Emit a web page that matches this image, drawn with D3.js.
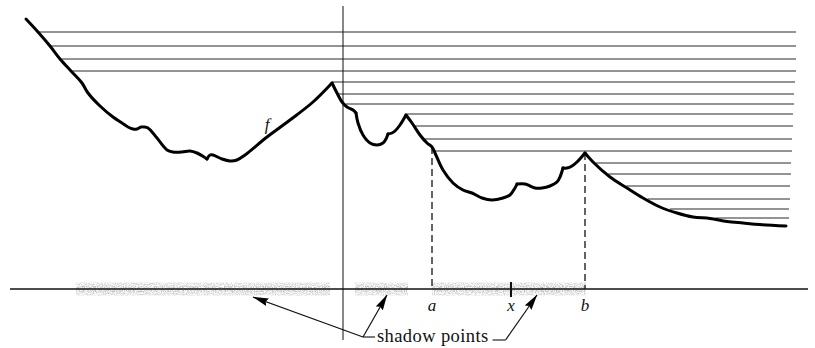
<!DOCTYPE html>
<html><head><meta charset="utf-8">
<script src="https://cdn.jsdelivr.net/npm/d3@7"></script>
<style>html,body{margin:0;padding:0;background:#fff}svg{display:block}</style>
</head><body>
<svg id="c" width="815" height="348"></svg>
<script>
// ---- data (units: horizontal axis at y=0, vertical line at x=0) ----
const fSegments = [
  [[-31.7,27.0],[-30.5,25.7],[-29.3,24.3],[-28.3,23.0],[-27.2,21.8],[-26.1,20.6],[-25.5,19.6],[-24.3,18.3],[-23.0,17.2],[-22.1,16.6],[-21.5,16.2],[-21.0,16.0],[-20.6,16.0],[-20.2,16.2],[-19.9,16.2],[-19.5,16.1],[-18.6,15.1],[-17.6,13.9],[-17.0,13.7],[-16.1,13.7],[-15.3,13.8],[-14.6,13.6],[-13.9,13.2],[-13.6,13.0]],
  [[-13.6,13.0],[-13.3,13.4],[-13.0,13.4],[-12.1,13.0],[-11.3,12.8],[-10.6,12.9],[-9.8,13.4],[-7.6,15.2],[-5.3,16.9],[-3.0,18.7],[-1.1,20.6]],
  [[-1.1,20.6],[-0.6,19.6],[-0.1,18.7],[0.4,18.2],[1.0,17.9],[1.3,17.6]],
  [[1.3,17.6],[1.5,16.6],[2.0,15.4],[2.7,14.6],[3.4,14.4],[4.0,14.6],[4.3,15.0],[4.5,15.5]],
  [[4.5,15.5],[4.9,15.6],[5.2,15.8],[5.7,16.4],[6.3,17.4]],
  [[6.3,17.4],[6.9,16.6],[7.7,15.4],[8.4,14.6],[8.9,14.2],[9.2,13.6],[10.0,11.9],[11.0,10.6],[12.0,9.9],[12.9,9.6],[13.9,9.1],[14.9,8.9],[16.0,9.1],[16.7,9.4],[17.2,10.1],[17.4,10.5]],
  [[17.4,10.5],[18.2,10.5],[18.5,10.4],[19.2,10.1],[19.9,10.1],[20.7,10.3],[21.4,10.7],[21.7,11.2],[22.0,12.1]],
  [[22.0,12.1],[22.4,12.1],[22.9,12.3],[23.4,12.7],[24.2,13.6]],
  [[24.2,13.6],[25.0,12.7],[26.7,11.2],[28.4,10.1],[30.0,9.1],[31.7,8.2],[33.4,7.6],[35.0,7.2],[36.7,7.05],[38.4,6.75],[40.0,6.6],[41.7,6.45],[44.3,6.3]]
];
const rayLevels = [25.7,24.3,23.0,21.8,20.7,19.5,18.5,17.5,16.3,15.0,13.8,12.6,11.5,10.3,9.0,8.0,7.1];
const rayEnds   = [45.3,45.3,45.3,45.3,45.2,45.1,45.1,45.0,45.0,44.9,44.9,44.8,44.8,44.7,44.7,44.6,44.6];
const shadowIntervals = [[-26.7,-1.3],[1.2,6.5],[8.9,24.3]];
const pointA = 8.9, pointB = 24.2, pointX = 16.8;
const pointLabels = [{t:"a",x:pointA},{t:"x",x:pointX},{t:"b",x:pointB}];
const axisXExtent = [-33.3, 46.5];
const axisYExtent = [-5.1, 28.3];
const shadowLabel = "shadow points";
const arrowTips = [[-9.0,-0.8],[4.4,-0.6],[19.4,-0.6]];

// ---- scales ----
const W = 815, H = 348;
const x = d3.scaleLinear().domain([-34.3, 47.2]).range([0, W]);
const y = d3.scaleLinear().domain([-5.9, 28.9]).range([H, 0]);
const curveHalfWidth = 0.15; // half the stroke of f, in data units

const svg = d3.select("#c");
const defs = svg.append("defs");
defs.append("marker").attr("id","ah").attr("viewBox","0 0 16 9").attr("refX",15.5).attr("refY",4.5)
  .attr("markerWidth",16).attr("markerHeight",9).attr("markerUnits","userSpaceOnUse").attr("orient","auto")
  .append("path").attr("d","M0,0.5 L16,4.5 L0,8.5 L2,4.5 Z").attr("fill","#000");
const flt = defs.append("filter").attr("id","speckle").attr("x",0).attr("y",0).attr("width",1).attr("height",1);
flt.append("feTurbulence").attr("type","fractalNoise").attr("baseFrequency","0.9").attr("numOctaves",2).attr("seed",5).attr("result","n");
flt.append("feColorMatrix").attr("in","n").attr("type","matrix")
  .attr("values","0 0 0 0 0.42  0 0 0 0 0.42  0 0 0 0 0.42  2.6 0 0 0 -0.85").attr("result","d");
flt.append("feComposite").attr("in","d").attr("in2","SourceGraphic").attr("operator","in");

// ---- shadow bands (speckled) ----
const bands = svg.append("g").attr("filter","url(#speckle)");
bands.selectAll("rect.outer").data(shadowIntervals).join("rect").attr("class","outer")
  .attr("x", d => x(d[0])).attr("width", d => x(d[1]) - x(d[0]))
  .attr("y", y(0) - 6.5).attr("height", 13).attr("fill", "#000").attr("fill-opacity", 0.55);
bands.selectAll("rect.inner").data(shadowIntervals).join("rect").attr("class","inner")
  .attr("x", d => x(d[0])).attr("width", d => x(d[1]) - x(d[0]))
  .attr("y", y(0) - 3).attr("height", 6).attr("fill", "#000").attr("fill-opacity", 0.6);

// ---- rays: from right end leftward until they reach the graph ----
const pts = fSegments.flat();
function rayStart(c){
  for (let i = pts.length - 1; i > 0; i--){
    const p = pts[i], q = pts[i-1];
    if (q[1] >= c && p[1] < c){
      return q[0] + (c - q[1]) / (p[1] - q[1]) * (p[0] - q[0]);
    }
  }
  return pts[0][0];
}
svg.append("g").selectAll("line").data(rayLevels).join("line")
  .attr("x1", d => x(rayStart(d - curveHalfWidth))).attr("x2", (d,i) => x(rayEnds[i]))
  .attr("y1", d => y(d)).attr("y2", d => y(d))
  .attr("stroke", "#2a2a2a").attr("stroke-width", 1.1);

// ---- axes ----
svg.append("line").attr("x1", x(axisXExtent[0])).attr("x2", x(axisXExtent[1]))
  .attr("y1", y(0)).attr("y2", y(0)).attr("stroke","#111").attr("stroke-width",1.3);
svg.append("line").attr("x1", x(0)).attr("x2", x(0))
  .attr("y1", y(axisYExtent[1])).attr("y2", y(axisYExtent[0])).attr("stroke","#111").attr("stroke-width",1);

// ---- dashed verticals at a and b ----
function fAt(xv){
  for (let i = 0; i < pts.length - 1; i++){
    const p = pts[i], q = pts[i+1];
    if (p[0] <= xv && q[0] >= xv && q[0] > p[0]) return p[1] + (xv - p[0]) / (q[0] - p[0]) * (q[1] - p[1]);
  }
  return 0;
}
svg.append("g").selectAll("line").data([pointA, pointB]).join("line")
  .attr("x1", d => x(d)).attr("x2", d => x(d))
  .attr("y1", d => y(fAt(d))).attr("y2", y(0))
  .attr("stroke","#111").attr("stroke-width",1.3).attr("stroke-dasharray","7,4");

// ---- tick at x ----
svg.append("line").attr("x1", x(pointX)).attr("x2", x(pointX))
  .attr("y1", y(0.7)).attr("y2", y(-0.8)).attr("stroke","#111").attr("stroke-width",2);

// ---- graph f ----
const line = d3.line().x(d => x(d[0])).y(d => y(d[1])).curve(d3.curveCatmullRom.alpha(0.5));
svg.append("g").selectAll("path").data(fSegments).join("path")
  .attr("d", line).attr("fill","none").attr("stroke","#000").attr("stroke-width",3)
  .attr("stroke-linejoin","round").attr("stroke-linecap","round");

// ---- labels ----
const serif = "'Liberation Serif','DejaVu Serif',serif";
svg.append("text").attr("x", x(-7.6)).attr("y", y(15.9)).attr("text-anchor","middle").text("f")
  .attr("font-family", serif).attr("font-style","italic").attr("font-size",17).attr("fill","#111");
svg.append("g").selectAll("text").data(pointLabels).join("text")
  .attr("x", d => x(d.x)).attr("y", y(-2.2)).attr("text-anchor","middle").text(d => d.t)
  .attr("font-family", serif).attr("font-style","italic").attr("font-size",17).attr("fill","#111");

// ---- "shadow points" annotation ----
const base = [2.0, -4.8];
svg.append("line").attr("x1", x(base[0])).attr("x2", x(3.2)).attr("y1", y(base[1])).attr("y2", y(base[1]))
  .attr("stroke","#111").attr("stroke-width",1.1);
const lbl = svg.append("text").attr("x", x(3.4)).attr("y", y(-5.3)).text(shadowLabel)
  .attr("font-family", serif).attr("font-size",18.5).attr("fill","#111").attr("letter-spacing",0.4);
const tw = lbl.node().getComputedTextLength();
const endX = x.invert(x(3.4) + tw + 4);
svg.append("line").attr("x1", x(endX)).attr("x2", x(endX + 1.3)).attr("y1", y(-5.1)).attr("y2", y(-5.1))
  .attr("stroke","#111").attr("stroke-width",1.1);
const arrowBases = [base, base, [endX + 1.3, -5.1]];
svg.append("g").selectAll("line").data(arrowTips).join("line")
  .attr("x1", (d,i) => x(arrowBases[i][0])).attr("y1", (d,i) => y(arrowBases[i][1]))
  .attr("x2", d => x(d[0])).attr("y2", d => y(d[1]))
  .attr("stroke","#111").attr("stroke-width",1.2).attr("marker-end","url(#ah)");
</script>
</body></html>
